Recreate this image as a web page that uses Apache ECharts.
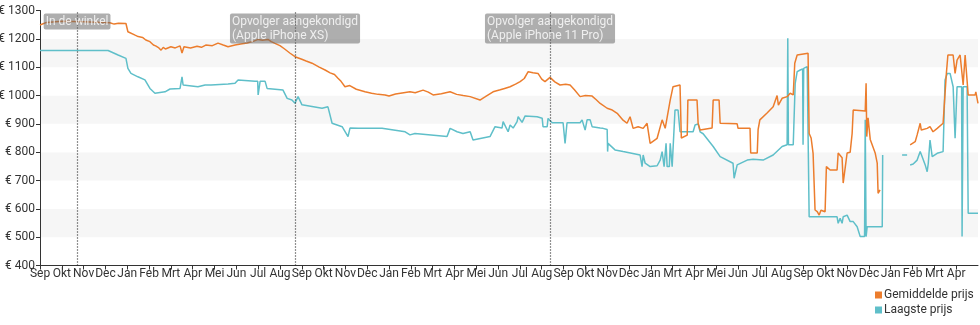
<!DOCTYPE html>
<html>
<head>
<meta charset="utf-8">
<script src="https://cdn.jsdelivr.net/npm/echarts@6/dist/echarts.min.js"></script>
<style>
  html, body { margin: 0; padding: 0; background: #ffffff; }
  #chart { width: 980px; height: 325px; }
</style>
</head>
<body>
<div id="chart"></div>
<script>
// Month labels along the bottom axis (Sep 2017 .. Apr 2021, gap-free month scale)
const monthLabels = [
  'Sep', 'Okt', 'Nov', 'Dec', 'Jan', 'Feb', 'Mrt', 'Apr', 'Mei', 'Jun', 'Jul', 'Aug',
  'Sep', 'Okt', 'Nov', 'Dec', 'Jan', 'Feb', 'Mrt', 'Apr', 'Mei', 'Jun', 'Jul', 'Aug',
  'Sep', 'Okt', 'Nov', 'Dec', 'Jan', 'Mrt', 'Apr', 'Mei', 'Jun', 'Jul', 'Aug',
  'Sep', 'Okt', 'Nov', 'Dec', 'Jan', 'Feb', 'Mrt', 'Apr'
];

// Price axis ticks (euro)
const priceTicks = [400, 500, 600, 700, 800, 900, 1000, 1100, 1200, 1300];

// Event markers: position in months from Sep 2017, and caption
const eventPositions = [1.70, 11.69, 23.38];
const eventLabels = [
  'In de winkel',
  'Opvolger aangekondigd\n(Apple iPhone XS)',
  'Opvolger aangekondigd\n(Apple iPhone 11 Pro)'
];

// Average price: [month index, euro]
const averagePrice = [
  [0, 1249], [0.3, 1258], [1.0, 1262], [2.0, 1260], [3.2, 1257], [3.4, 1252], [3.6, 1255], [3.94, 1254],
  [4.03, 1225], [4.36, 1213], [4.5, 1208], [4.7, 1205], [4.85, 1196], [5.04, 1190], [5.2, 1178], [5.3, 1175], [5.45, 1168], [5.55, 1160],
  [5.65, 1170], [5.75, 1164], [6.0, 1172], [6.2, 1168], [6.42, 1175], [6.51, 1150], [6.6, 1172], [6.9, 1168], [7.2, 1174],
  [7.4, 1170], [7.6, 1178], [7.9, 1176], [8.16, 1185], [8.4, 1178], [8.62, 1172], [8.94, 1178], [9.2, 1182], [9.5, 1185], [9.8, 1192], [10.0, 1198],
  [10.2, 1195], [10.45, 1198], [10.6, 1190], [10.77, 1184], [11.0, 1176], [11.2, 1165], [11.45, 1150], [11.69, 1137], [12.0, 1128], [12.2, 1122], [12.47, 1114], [12.8, 1100], [13.07, 1090],
  [13.3, 1080], [13.5, 1074], [13.66, 1061], [13.8, 1050], [13.98, 1031], [14.2, 1035], [14.5, 1022], [14.9, 1013], [15.2, 1008], [15.5, 1004], [15.82, 1002], [16.0, 998], [16.3, 1005],
  [16.6, 1009], [16.96, 1013], [17.2, 1010], [17.56, 1019], [17.8, 1012], [18.02, 1002], [18.4, 1006], [18.8, 1013], [19.1, 1004], [19.4, 1000], [19.72, 996], [20.17, 984],
  [20.4, 995], [20.77, 1013], [21.1, 1020], [21.3, 1025], [21.55, 1031], [21.8, 1040], [22.01, 1049], [22.2, 1060], [22.38, 1084], [22.6, 1080], [22.83, 1078], [23.0, 1058], [23.15, 1049],
  [23.38, 1064], [23.6, 1048], [23.84, 1037], [24.1, 1040], [24.30, 1037], [24.5, 1020], [24.76, 996], [25.0, 1000], [25.31, 998], [25.5, 985], [25.68, 972],
  [26.0, 955], [26.2, 950], [26.46, 937], [26.7, 915], [26.91, 902], [27.05, 925], [27.19, 884], [27.42, 890],
  [27.65, 884], [27.83, 902], [27.97, 831], [28.29, 849], [28.52, 914], [28.66, 884],
  [28.89, 984], [29.02, 1031], [29.34, 1037], [29.40, 850], [29.67, 860], [29.70, 984],
  [30.12, 984], [30.17, 902], [30.26, 878], [30.81, 885], [30.86, 984], [31.13, 984],
  [31.18, 902], [31.96, 900], [32.0, 884], [32.55, 884], [32.58, 797], [32.88, 797],
  [32.92, 880], [33.0, 914], [33.33, 938], [33.61, 960], [33.79, 1000], [33.85, 966],
  [34.02, 990], [34.25, 996], [34.39, 1008], [34.53, 1002], [34.6, 1114], [34.71, 1143],
  [35.21, 1149], [35.26, 866], [35.35, 850], [35.44, 796], [35.53, 596], [35.63, 590],
  [35.72, 578], [35.8, 595], [35.99, 590], [36.05, 749], [36.22, 737], [36.54, 737],
  [36.59, 797], [36.77, 780], [36.82, 691], [37.0, 797], [37.14, 800], [37.23, 866],
  [37.28, 949], [37.83, 945], [37.87, 1043], [37.90, 855], [37.96, 921], [38.06, 845],
  [38.29, 796], [38.38, 761], [38.42, 655], [38.51, 667],
  null,
  [39.89, 826], [40.12, 837], [40.21, 861], [40.35, 902], [40.40, 878], [40.49, 878],
  [40.67, 884], [40.80, 890], [40.94, 872], [41.13, 884], [41.40, 902], [41.49, 905],
  [41.55, 1078], [41.62, 1143], [41.86, 1143], [41.95, 1078], [42.04, 1125], [42.18, 1143],
  [42.32, 1037], [42.41, 1143], [42.50, 1143], [42.55, 1002], [42.87, 1002], [42.90, 1013],
  [43.0, 972]
];

// Lowest price: [month index, euro]
const lowestPrice = [
  [0, 1159], [3.12, 1159], [3.58, 1143], [3.94, 1131], [4.03, 1096], [4.17, 1078],
  [4.49, 1066], [4.81, 1055], [5.04, 1025], [5.27, 1008], [5.73, 1013], [5.96, 1023],
  [6.42, 1025], [6.49, 1025], [6.51, 1066], [6.56, 1037], [7.24, 1031], [7.57, 1037],
  [7.84, 1037], [8.62, 1041], [8.94, 1043], [9.08, 1055], [9.86, 1050], [9.98, 1050],
  [10.0, 1002], [10.09, 1050], [10.32, 1050], [10.41, 1025], [11.14, 1019], [11.33, 990],
  [11.55, 984], [11.69, 973], [11.83, 996], [12.01, 967], [12.47, 961], [12.93, 955],
  [13.20, 960], [13.39, 902], [13.85, 890], [14.12, 855], [14.21, 885], [14.58, 884],
  [15.68, 884], [16.74, 872], [16.96, 861], [17.19, 866], [18.66, 855], [18.80, 884],
  [19.12, 872], [19.39, 866], [19.72, 872], [19.85, 843], [20.63, 855], [20.86, 890],
  [21.18, 885], [21.23, 908], [21.46, 872], [21.55, 896], [21.69, 885], [21.87, 908],
  [21.92, 925], [22.10, 905], [22.24, 928], [22.79, 925], [23.02, 920], [23.06, 890],
  [23.25, 890], [23.29, 919], [23.48, 904], [23.98, 904], [24.07, 831], [24.16, 904],
  [24.76, 904], [24.85, 914], [24.99, 878], [25.08, 914], [25.22, 914], [25.31, 890],
  [25.68, 885], [25.81, 884], [26.0, 880], [26.02, 802], [26.04, 831], [26.36, 808],
  [26.73, 802], [27.51, 790], [27.60, 749], [27.65, 790], [27.74, 761], [27.97, 749],
  [28.29, 752], [28.43, 772], [28.52, 802], [28.57, 802], [28.61, 749], [28.66, 749],
  [28.70, 831], [28.75, 749], [28.85, 749], [28.89, 831], [28.95, 831], [28.98, 749],
  [29.05, 749], [29.11, 949], [29.25, 949], [29.34, 872], [29.94, 872], [30.03, 896],
  [30.17, 900], [30.26, 872], [30.40, 865], [30.86, 820], [31.18, 784], [31.77, 761],
  [31.82, 708], [31.96, 755], [32.42, 772], [32.69, 775], [33.15, 772], [33.61, 790],
  [34.02, 820], [34.25, 826], [34.28, 1202], [34.31, 826], [34.53, 826], [34.62, 1043],
  [34.71, 1084], [34.85, 1090], [34.96, 1094], [34.98, 826], [35.01, 1096], [35.17, 1102],
  [35.24, 1102], [35.26, 572], [35.44, 572], [35.53, 578], [36.54, 572], [36.59, 549],
  [36.68, 567], [36.77, 549], [36.82, 572], [37.0, 578], [37.14, 555], [37.23, 560],
  [37.28, 555], [37.46, 537], [37.60, 502], [37.80, 502], [37.83, 914], [37.87, 502],
  [37.92, 537], [38.61, 537], [38.63, 790],
  null,
  [39.52, 790], [39.75, 790],
  null,
  [39.89, 755], [40.03, 758], [40.21, 772], [40.35, 802], [40.44, 784], [40.58, 755],
  [40.67, 731], [40.72, 760], [40.80, 843], [40.90, 784], [40.94, 784], [41.13, 796],
  [41.40, 802], [41.49, 1055], [41.59, 1078], [41.72, 1078], [41.86, 1031], [41.95, 849],
  [42.04, 1031], [42.25, 1031], [42.27, 502], [42.32, 1031], [42.50, 1031], [42.55, 584],
  [43.0, 584]
];

const ORANGE = '#ec7d2d';
const TEAL = '#5fbfc9';
const FONT = 'Roboto, "Noto Sans", sans-serif';
const CAPTION_PAD = 2;

// Width of a caption's longest line, so the box can be centred on its line
// while the text inside stays left-aligned.
const measureCtx = document.createElement('canvas').getContext('2d');
measureCtx.font = '12px ' + FONT;
function captionWidth(text) {
  return Math.max(...text.split('\n').map(s => measureCtx.measureText(s).width)) + 2 * CAPTION_PAD;
}

const chart = echarts.init(document.getElementById('chart'), null, { renderer: 'canvas' });

chart.setOption({
  animation: false,
  backgroundColor: '#ffffff',
  textStyle: { fontFamily: FONT },
  grid: { left: 40, right: 2, top: 10.5, bottom: 59.5, containLabel: false, outerBoundsMode: 'none' },
  legend: {
    orient: 'vertical',
    left: 875,
    top: 289,
    itemWidth: 7,
    itemHeight: 7,
    itemGap: 3,
    icon: 'rect',
    padding: 0,
    textStyle: { fontFamily: FONT, fontSize: 12, color: '#333', padding: [0, 0, 0, -3], lineHeight: 12 },
    data: ['Gemiddelde prijs', 'Laagste prijs']
  },
  xAxis: {
    type: 'value',
    min: 0,
    max: 43,
    interval: 1,
    axisLine: { show: true, onZero: false, lineStyle: { color: '#333', width: 1 } },
    axisTick: { show: true, length: 4, lineStyle: { color: '#333' } },
    splitLine: { show: false },
    axisLabel: {
      margin: 2,
      fontFamily: FONT,
      fontSize: 12,
      color: '#333',
      showMaxLabel: false,
      formatter: v => monthLabels[Math.round(v)] || ''
    }
  },
  yAxis: {
    type: 'value',
    min: priceTicks[0],
    max: priceTicks[priceTicks.length - 1],
    interval: 100,
    axisLine: { show: true, lineStyle: { color: '#333', width: 1 } },
    axisTick: { show: true, length: 4, lineStyle: { color: '#333' } },
    splitLine: { show: false },
    splitArea: { show: true, areaStyle: { color: ['#ffffff', '#f6f6f6'] } },
    axisLabel: {
      margin: 5,
      fontFamily: FONT,
      fontSize: 12,
      color: '#333',
      formatter: v => '€ ' + v
    }
  },
  series: [
    {
      name: 'Gemiddelde prijs',
      type: 'line',
      data: averagePrice,
      showSymbol: false,
      connectNulls: false,
      color: ORANGE,
      lineStyle: { color: ORANGE, width: 1.5 },
      z: 3,
      markLine: {
        silent: true,
        symbol: 'none',
        z: 5,
        label: { show: false },
        lineStyle: { color: '#222', type: [1, 2], width: 1.2, opacity: 1 },
        data: eventPositions.map(x => ({ xAxis: x }))
      }
    },
    {
      name: 'Laagste prijs',
      type: 'line',
      data: lowestPrice,
      showSymbol: false,
      connectNulls: false,
      color: TEAL,
      lineStyle: { color: TEAL, width: 1.5 },
      z: 2
    },
    {
      // caption boxes hanging from the top of each event line
      name: 'events',
      type: 'scatter',
      silent: true,
      symbolSize: 0,
      z: 10,
      data: eventPositions.map((x, i) => ({
        value: [x, priceTicks[priceTicks.length - 1]],
        name: eventLabels[i],
        label: { offset: [-captionWidth(eventLabels[i]) / 2, 0] }
      })),
      label: {
        show: true,
        position: 'bottom',
        distance: 3,
        formatter: p => p.name,
        color: '#ffffff',
        fontFamily: FONT,
        fontSize: 12,
        lineHeight: 14,
        align: 'left',
        backgroundColor: 'rgba(105,105,105,0.68)',
        borderRadius: 2,
        padding: [1, CAPTION_PAD, 1, CAPTION_PAD]
      }
    }
  ]
});
</script>
</body>
</html>
